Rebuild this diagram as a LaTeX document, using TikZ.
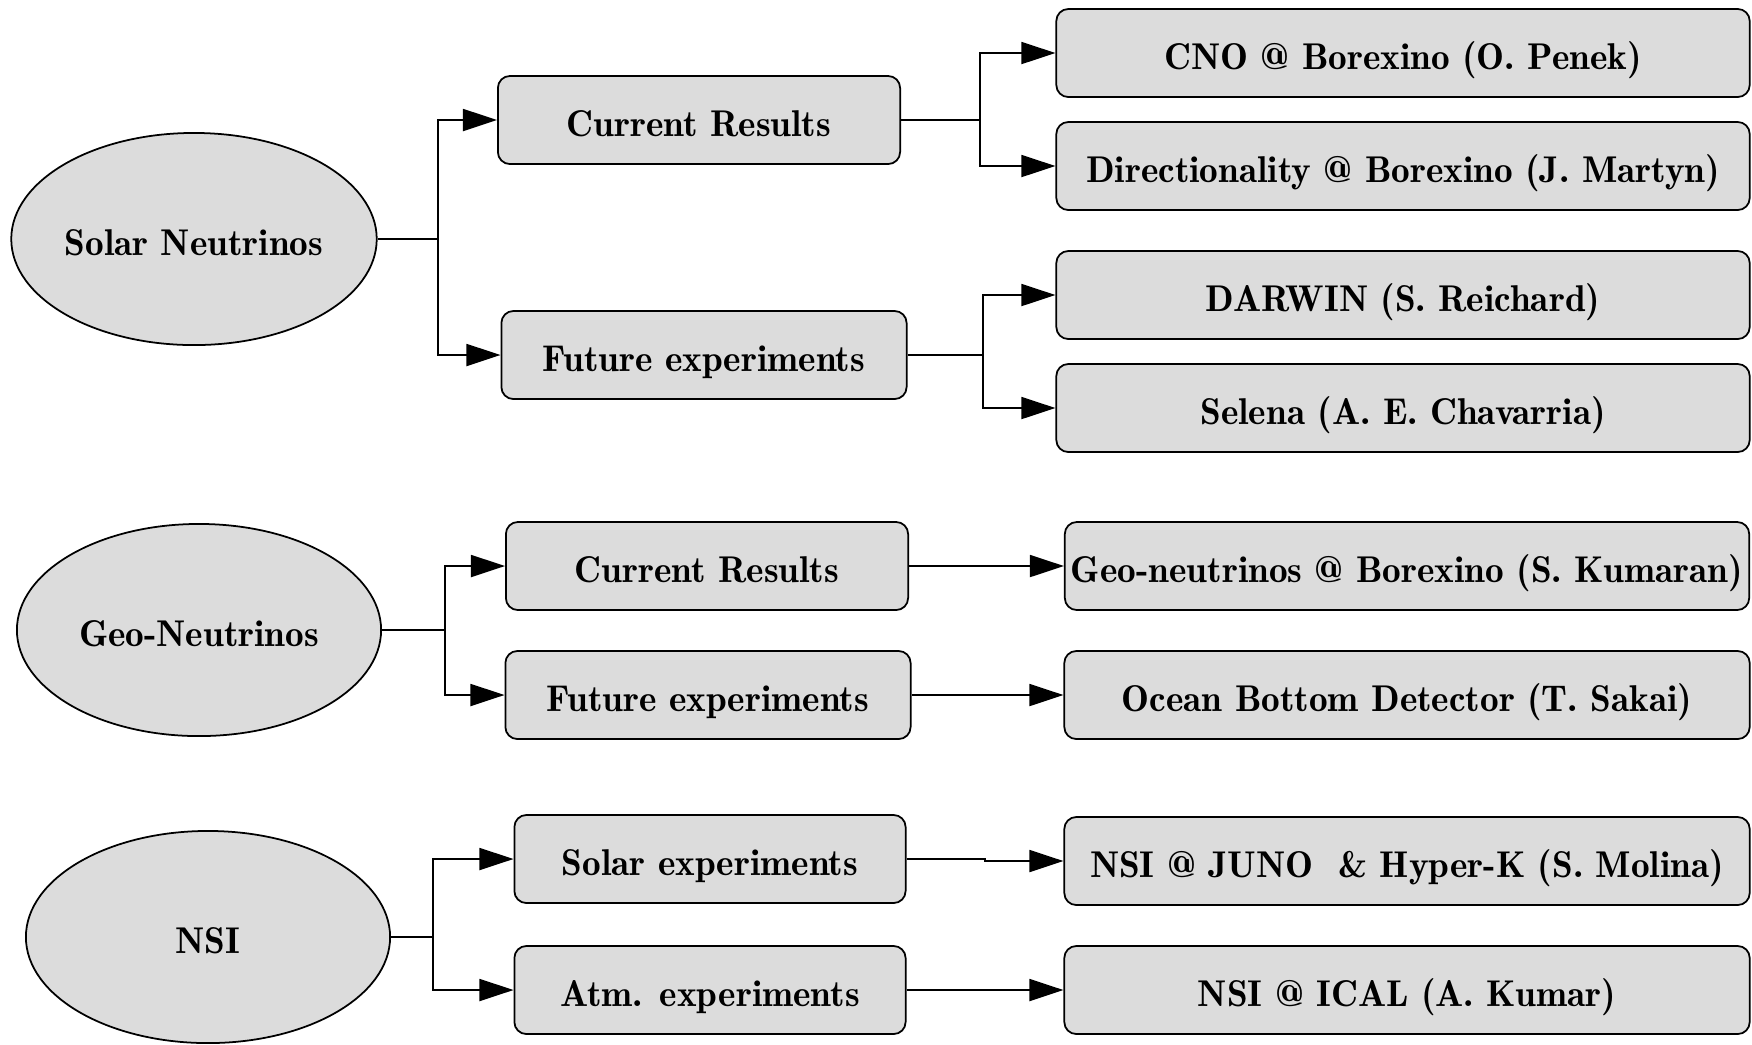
\documentclass[tikz,border=0pt]{standalone}
\usetikzlibrary{shapes.geometric,arrows.meta}
\definecolor{boxgray}{RGB}{220,220,220}

\begin{document}
\begin{tikzpicture}[x=0.01cm,y=-0.01cm,line width=0.5pt,
  topic/.style={ellipse,draw,fill=boxgray,minimum width=3.64cm,minimum height=2.12cm,inner sep=0pt,text height=0.95em,text depth=0pt,font=\fontsize{10.6}{12}\fontseries{b}\selectfont},
  box/.style={draw,fill=boxgray,rounded corners=1.2mm,minimum width=#1,minimum height=0.88cm,inner sep=0pt,text height=0.95em,text depth=0pt,font=\fontsize{10.6}{12}\fontseries{b}\selectfont},
  arr/.style={-{Triangle[length=3.4mm,width=2.2mm]}}]
\useasboundingbox (0,0) rectangle (1752,1044);
\node[topic] (sol) at (194,239) {Solar Neutrinos};
\node[box=4.02cm] (cur1) at (699,120) {Current Results};
\node[box=4.05cm] (fut1) at (704,355) {Future experiments};
\node[box=6.93cm] (cno) at (1403,53) {CNO @ Borexino (O. Penek)};
\node[box=6.93cm] (dir) at (1403,166) {Directionality @ Borexino (J. Martyn)};
\node[box=6.93cm] (dar) at (1403,295) {DARWIN (S. Reichard)};
\node[box=6.93cm] (sel) at (1403,408) {Selena (A. E. Chavarria)};
\coordinate (j1) at (438,239);
\coordinate (j2) at (980,120);
\coordinate (j3) at (983,355);
\draw[arr] (sol.east) -- (j1) |- (cur1.west);
\draw[arr] (j1) |- (fut1.west);
\draw[arr] (cur1.east) -- (j2) |- (cno.west);
\draw[arr] (j2) |- (dir.west);
\draw[arr] (fut1.east) -- (j3) |- (dar.west);
\draw[arr] (j3) |- (sel.west);

\node[topic] (geo) at (199,630) {Geo-Neutrinos};
\node[box=4.02cm] (cur2) at (707,566) {Current Results};
\node[box=4.05cm] (fut2) at (708,695) {Future experiments};
\node[box=6.84cm] (geob) at (1407,566) {Geo-neutrinos @ Borexino (S. Kumaran)};
\node[box=6.85cm] (obd) at (1407,695) {Ocean Bottom Detector (T. Sakai)};
\coordinate (j4) at (445,630);
\draw[arr] (geo.east) -- (j4) |- (cur2.west);
\draw[arr] (j4) |- (fut2.west);
\draw[arr] (cur2.east) -- (geob.west);
\draw[arr] (fut2.east) -- (obd.west);

\node[topic] (nsi) at (208,937) {NSI};
\node[box=3.91cm] (sol3) at (710,859) {Solar experiments};
\node[box=3.91cm] (atm3) at (710,990) {Atm. experiments};
\node[box=6.85cm] (juno) at (1407,861) {NSI @ JUNO~ \& Hyper-K (S. Molina)};
\node[box=6.85cm] (ical) at (1407,990) {NSI @ ICAL (A. Kumar)};
\coordinate (j5) at (433,937);
\coordinate (j6) at (985,859);
\draw[arr] (nsi.east) -- (j5) |- (sol3.west);
\draw[arr] (j5) |- (atm3.west);
\draw[arr] (sol3.east) -- (j6) |- (juno.west);
\draw[arr] (atm3.east) -- (ical.west);
\end{tikzpicture}
\end{document}
